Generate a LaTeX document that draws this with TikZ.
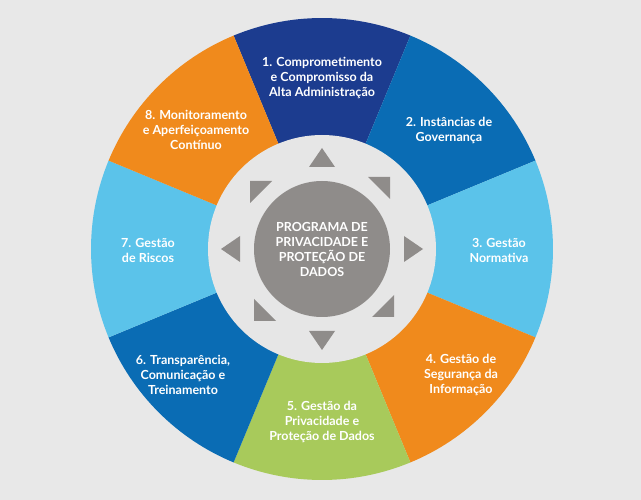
\documentclass[tikz,border=0pt]{standalone}
\usepackage{fontspec}
\setmainfont{Lato}
\begin{document}
\begin{tikzpicture}[x=1pt,y=-1pt,
 lab/.style={text=white,align=center,font=\fontsize{12.5}{15}\selectfont\bfseries},
 tri/.style={fill=tri}]
\definecolor{bg}{HTML}{E8E8E8}
\definecolor{c1}{HTML}{1C3C8F}
\definecolor{c2}{HTML}{0A6CB4}
\definecolor{c3}{HTML}{5BC3EA}
\definecolor{c4}{HTML}{F08A1C}
\definecolor{c5}{HTML}{A8CA5B}
\definecolor{ring}{HTML}{E6E6E6}
\definecolor{tri}{HTML}{8F8C8A}
\fill[bg] (0,0) rectangle (641,500);
\useasboundingbox (0,0) rectangle (641,500);
\coordinate (O) at (322,249);
\foreach \c [count=\i] in {c1,c2,c3,c4,c5,c2,c3,c4}{
 \pgfmathsetmacro\a{112.5-45*(\i-1)}
 \fill[\c] (O) -- ++(-\a:231) arc[start angle=-\a,end angle=-\a+45,radius=231] -- cycle;
}
\fill[ring] (O) circle[radius=114];
\fill[tri] (O) circle[radius=68];
\foreach \k in {0,2,4,6}{
 \fill[tri,rotate around={\k*45:(O)}] (322,148) -- (335,167) -- (309,167) -- cycle;
}
\foreach \k in {1,3,5,7}{
 \fill[tri,rotate around={\k*45-45:(O)}] (250,181) -- (272,181) -- (250,203) -- cycle;
}
\node[lab] (n0) at (O) {PROGRAMA DE\\PRIVACIDADE E\\PROTEÇÃO DE\\DADOS};
\node[lab] (n1) at (322,78) {1. Comprometimento\\e Compromisso da\\Alta Administração};
\node[lab] (n2) at (449,130) {2. Instâncias de\\Governança};
\node[lab] (n3) at (499,250) {3. Gestão\\Normativa};
\node[lab] (n4) at (461,375) {4. Gestão de\\Segurança da\\Informação};
\node[lab] (n5) at (322,422) {5. Gestão da\\Privacidade e\\Proteção de Dados};
\node[lab] (n6) at (183,375) {6. Transparência,\\Comunicação e\\Treinamento};
\node[lab] (n7) at (148,250) {7. Gestão\\de Riscos};
\node[lab] (n8) at (196,130) {8. Monitoramento\\e Aperfeiçoamento\\Contínuo};
\end{tikzpicture}
\end{document}
